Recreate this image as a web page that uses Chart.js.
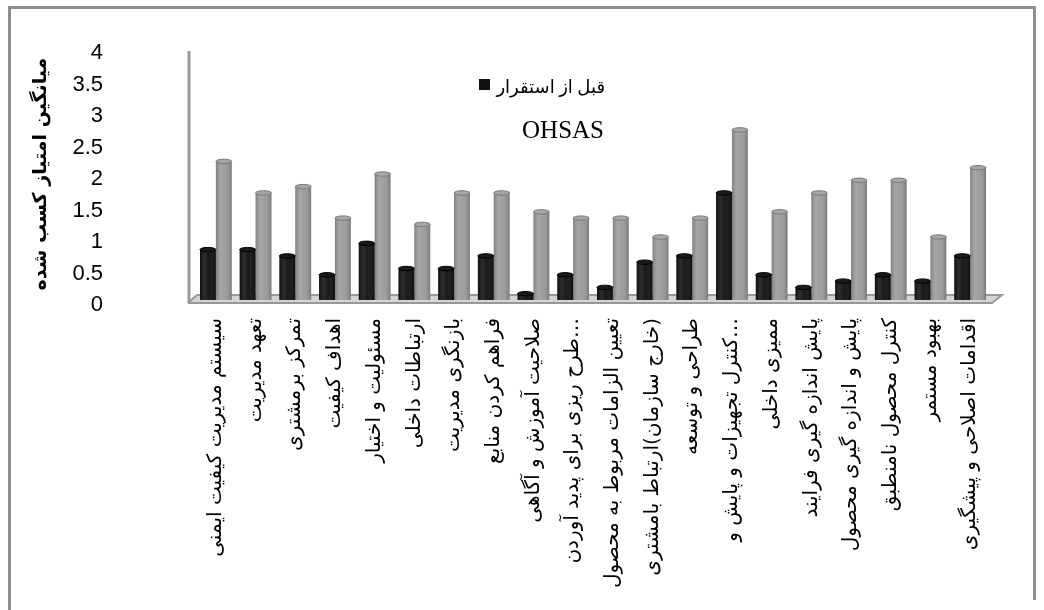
<!DOCTYPE html>
<html>
<head>
<meta charset="utf-8">
<script src="https://cdn.jsdelivr.net/npm/chart.js@4/dist/chart.umd.min.js"></script>
<style>
  html, body { margin: 0; padding: 0; background: #ffffff; }
  #wrap { width: 1044px; height: 610px; position: relative; }
</style>
</head>
<body>
<div id="wrap"><canvas id="chart" width="1044" height="610"></canvas></div>
<script>
// Categories (OHSAS clauses)
const categories = [
  'سیستم مدیریت کیفیت ایمنی',
  'تعهد مدیریت',
  'تمرکز برمشتری',
  'اهداف کیفیت',
  'مسئولیت و اختیار',
  'ارتباطات داخلی',
  'بازنگری مدیریت',
  'فراهم کردن منابع',
  'صلاحیت آموزش و آگاهی',
  'طرح ریزی برای پدید آوردن…',
  'تعیین الزامات مربوط به محصول',
  '\u200F(خارج سازمان)ارتباط بامشتری',
  'طراحی و توسعه',
  'کنترل تجهیزات و پایش و…',
  'ممیزی داخلی',
  'پایش اندازه گیری فرایند',
  'پایش و اندازه گیری محصول',
  'کنترل محصول نامنطبق',
  'بهبود مستمر',
  'اقدامات اصلاحی و پیشگیری'
];

// Average scores before and after implementation
const beforeScores = [0.8, 0.8, 0.7, 0.4, 0.9, 0.5, 0.5, 0.7, 0.1, 0.4,
                      0.2, 0.6, 0.7, 1.7, 0.4, 0.2, 0.3, 0.4, 0.3, 0.7];
const afterScores  = [2.2, 1.7, 1.8, 1.3, 2.0, 1.2, 1.7, 1.7, 1.4, 1.3,
                      1.3, 1.0, 1.3, 2.7, 1.4, 1.7, 1.9, 1.9, 1.0, 2.1];

const seriesNames = ['قبل از استقرار OHSAS', 'بعد از استقرار OHSAS'];
const legendLines = ['قبل از استقرار', 'OHSAS'];
const yTitle = 'میانگین امتیاز کسب شده';
const yMin = 0, yMax = 4, yStep = 0.5;

// Frame, back wall and floor of the 3D-style plot
const scenePlugin = {
  id: 'scene',
  beforeDraw(chart) {
    const c = chart.ctx;
    c.save();
    c.fillStyle = '#ffffff';
    c.fillRect(0, 0, chart.width, chart.height);
    c.strokeStyle = '#8e8e8e';
    c.lineWidth = 3;
    c.beginPath();
    c.moveTo(9.5, 610);
    c.lineTo(9.5, 7.5);
    c.lineTo(1034.5, 7.5);
    c.lineTo(1034.5, 600);
    c.stroke();
    c.restore();
  },
  beforeDatasetsDraw(chart) {
    const c = chart.ctx;
    const a = chart.chartArea;
    const wallX = a.left - 7;
    c.save();
    // floor
    c.beginPath();
    c.moveTo(wallX, a.bottom + 2);
    c.lineTo(wallX + 8, a.bottom - 5);
    c.lineTo(a.right + 12, a.bottom - 5);
    c.lineTo(a.right + 2, a.bottom + 3);
    c.lineTo(wallX, a.bottom + 3);
    c.closePath();
    c.fillStyle = '#d4d4d4';
    c.fill();
    c.strokeStyle = '#999999';
    c.lineWidth = 2;
    c.stroke();
    // wall
    c.beginPath();
    c.moveTo(wallX, a.top + 3);
    c.lineTo(wallX, a.bottom + 3);
    c.lineWidth = 3;
    c.strokeStyle = '#999999';
    c.stroke();
    c.restore();
  },
  afterDatasetsDraw(chart) {
    const c = chart.ctx;
    c.save();
    chart.data.datasets.forEach((ds, di) => {
      const meta = chart.getDatasetMeta(di);
      meta.data.forEach((bar) => {
        const w = bar.width;
        const x0 = bar.x - w / 2, x1 = bar.x + w / 2;
        const top = Math.min(bar.y, bar.base), bot = Math.max(bar.y, bar.base);
        const g = c.createLinearGradient(x0, 0, x1, 0);
        g.addColorStop(0, 'rgba(0,0,0,0.18)');
        g.addColorStop(0.3, 'rgba(255,255,255,0.12)');
        g.addColorStop(0.55, 'rgba(255,255,255,0.04)');
        g.addColorStop(1, 'rgba(0,0,0,0.22)');
        c.fillStyle = g;
        c.fillRect(x0, top, w, bot - top);
        // rounded cap
        c.beginPath();
        c.ellipse(bar.x, top, w / 2, 2.2, 0, 0, Math.PI * 2);
        c.fillStyle = di === 0 ? '#1a1a1a' : '#a6a6a6';
        c.fill();
        c.lineWidth = 1;
        c.strokeStyle = di === 0 ? '#000000' : '#7a7a7a';
        c.stroke();
      });
    });
    c.restore();
  },
  afterDraw(chart) {
    const c = chart.ctx;
    c.save();
    c.fillStyle = '#111111';
    c.fillRect(479, 79, 11, 11);
    c.fillStyle = '#000000';
    c.textAlign = 'right';
    c.textBaseline = 'middle';
    c.font = '18px "Liberation Serif", "DejaVu Sans"';
    c.fillText(legendLines[0], 605, 88);
    c.font = '25px "Liberation Serif"';
    c.fillText(legendLines[1], 604, 131);
    c.restore();
  }
};

new Chart(document.getElementById('chart'), {
  type: 'bar',
  data: {
    labels: categories,
    datasets: [
      { label: seriesNames[0], data: beforeScores, backgroundColor: '#101010',
        categoryPercentage: 0.8, barPercentage: 1.0 },
      { label: seriesNames[1], data: afterScores, backgroundColor: '#9a9a9a',
        categoryPercentage: 0.8, barPercentage: 1.0 }
    ]
  },
  options: {
    responsive: false,
    animation: false,
    devicePixelRatio: 1,
    layout: { padding: { left: 20, top: 48, right: 54, bottom: 10 } },
    plugins: { legend: { display: false }, tooltip: { enabled: false } },
    scales: {
      x: {
        grid: { display: false, drawTicks: false },
        border: { display: false },
        ticks: {
          autoSkip: false, maxRotation: 90, minRotation: 90, padding: 18,
          color: '#000000', font: { family: "'DejaVu Sans'", size: 20 }
        },
        afterFit(scale) { scale.height = 300; }
      },
      y: {
        min: yMin, max: yMax,
        grid: { display: false, drawTicks: false },
        border: { display: false },
        ticks: {
          stepSize: yStep, padding: 93, labelOffset: 5, autoSkip: false,
          color: '#000000', font: { family: "'Liberation Sans'", size: 22 },
          callback: (v) => String(Number(v))
        },
        title: {
          display: true, text: yTitle, color: '#000000', padding: { top: 10, bottom: 0 },
          font: { family: "'DejaVu Sans'", size: 19, weight: 'bold' }
        },
        afterFit(scale) {
          scale.width = 176;
          scale.paddingTop = 0;
          scale.paddingBottom = 0;
        }
      }
    }
  },
  plugins: [scenePlugin]
});
</script>
</body>
</html>
